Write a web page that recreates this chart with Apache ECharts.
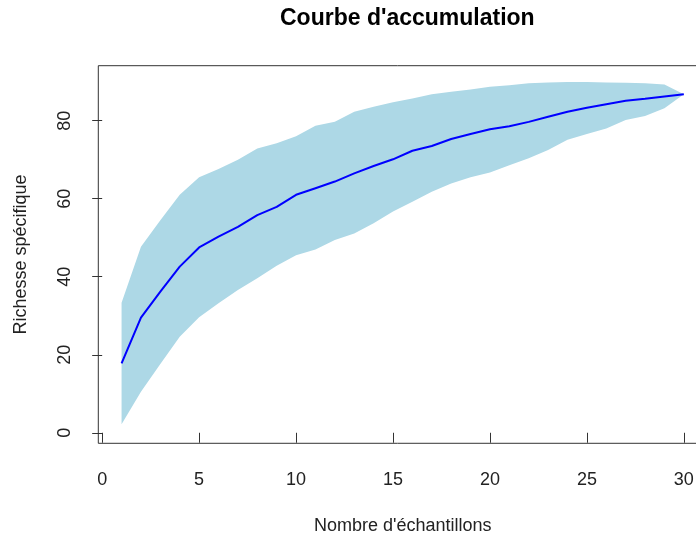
<!DOCTYPE html>
<html style="height: 100%">
<head>
<meta charset="utf-8">
<script src="https://cdn.jsdelivr.net/npm/echarts@6/dist/echarts.min.js"></script>
</head>
<body style="height: 100%; margin: 0; background: #fff">
<div id="container" style="width: 696px; height: 535px"></div>
<script type="text/javascript">

// nombre d'échantillons
var samples = [1, 2, 3, 4, 5, 6, 7, 8, 9, 10, 11, 12, 13, 14, 15,
               16, 17, 18, 19, 20, 21, 22, 23, 24, 25, 26, 27, 28, 29, 30];
// richesse moyenne
var richness = [17.8, 29.5, 36.2, 42.6, 47.5, 50.3, 52.8, 55.8, 57.9, 61.0,
                62.7, 64.4, 66.5, 68.4, 70.1, 72.3, 73.5, 75.3, 76.6, 77.8,
                78.6, 79.7, 81.0, 82.3, 83.3, 84.2, 85.1, 85.6, 86.2, 86.8];
// bornes de l'intervalle
var upper = [33.3, 47.7, 54.5, 61.0, 65.5, 67.6, 70.0, 72.9, 74.2, 76.0,
             78.7, 79.7, 82.3, 83.6, 84.7, 85.7, 86.8, 87.4, 88.0, 88.7,
             89.1, 89.6, 89.8, 89.9, 89.9, 89.8, 89.7, 89.6, 89.3, 86.8];
var lower = [2.2, 10.5, 17.6, 24.6, 29.6, 33.2, 36.6, 39.6, 42.8, 45.5,
             47.0, 49.4, 51.1, 53.7, 56.7, 59.2, 61.8, 63.9, 65.5, 66.7,
             68.6, 70.4, 72.5, 75.1, 76.6, 78.0, 80.2, 81.2, 83.2, 86.8];

var xTicks = [0, 5, 10, 15, 20, 25, 30];
var yTicks = [0, 20, 40, 60, 80];

var pairs = function (ys) {
    return samples.map(function (x, i) { return [x, ys[i]]; });
};

var font = 'Liberation Sans, Arial, sans-serif';
var ink = '#222';

// polygone de l'intervalle : borne haute puis borne basse à rebours
function renderBand(params, api) {
    var pts = [];
    for (var i = 0; i < samples.length; i++) {
        pts.push(api.coord([samples[i], upper[i]]));
    }
    for (var j = samples.length - 1; j >= 0; j--) {
        pts.push(api.coord([samples[j], lower[j]]));
    }
    return {
        type: 'polygon',
        shape: { points: pts },
        style: { fill: '#ADD8E6' },
        silent: true
    };
}

var myChart = echarts.init(document.getElementById('container'));

var option = {
    animation: false,
    backgroundColor: '#fff',
    title: {
        text: "Courbe d'accumulation",
        left: 275,
        top: 2,
        textStyle: {
            fontFamily: font,
            fontSize: 23,
            fontWeight: 'bold',
            color: '#000'
        }
    },
    grid: {
        show: true,
        left: 98.3,
        top: 65.7,
        width: 608.8,
        height: 377.6,
        outerBoundsMode: 'none',
        containLabel: false,
        borderColor: '#333',
        borderWidth: 1,
        backgroundColor: 'transparent'
    },
    xAxis: {
        type: 'value',
        min: -0.2,
        max: 31.2,
        name: "Nombre d'échantillons",
        nameLocation: 'middle',
        nameGap: 74,
        nameTextStyle: { fontFamily: font, fontSize: 18, color: ink },
        axisLine: { show: false },
        splitLine: { show: false },
        axisTick: {
            show: true,
            length: 10,
            customValues: xTicks,
            lineStyle: { color: '#333', width: 1 }
        },
        axisLabel: {
            customValues: xTicks,
            margin: 28,
            fontFamily: font,
            fontSize: 18,
            color: ink
        }
    },
    yAxis: {
        type: 'value',
        min: -2.7,
        max: 94.1,
        name: 'Richesse spécifique',
        nameLocation: 'middle',
        nameGap: 68,
        nameTextStyle: { fontFamily: font, fontSize: 18, color: ink },
        axisLine: { show: false },
        splitLine: { show: false },
        axisTick: {
            show: true,
            length: 10,
            customValues: yTicks,
            lineStyle: { color: '#333', width: 1 }
        },
        axisLabel: {
            customValues: yTicks,
            rotate: 90,
            margin: 24,
            fontFamily: font,
            fontSize: 18,
            color: ink
        }
    },
    series: [
        {
            name: 'intervalle',
            type: 'custom',
            data: [[samples[0], upper[0]]],
            renderItem: renderBand,
            clip: true,
            silent: true
        },
        {
            name: 'richesse',
            type: 'line',
            data: pairs(richness),
            symbol: 'none',
            lineStyle: { color: '#0000FF', width: 2 }
        }
    ]
};

myChart.setOption(option);

</script>
</body>
</html>
